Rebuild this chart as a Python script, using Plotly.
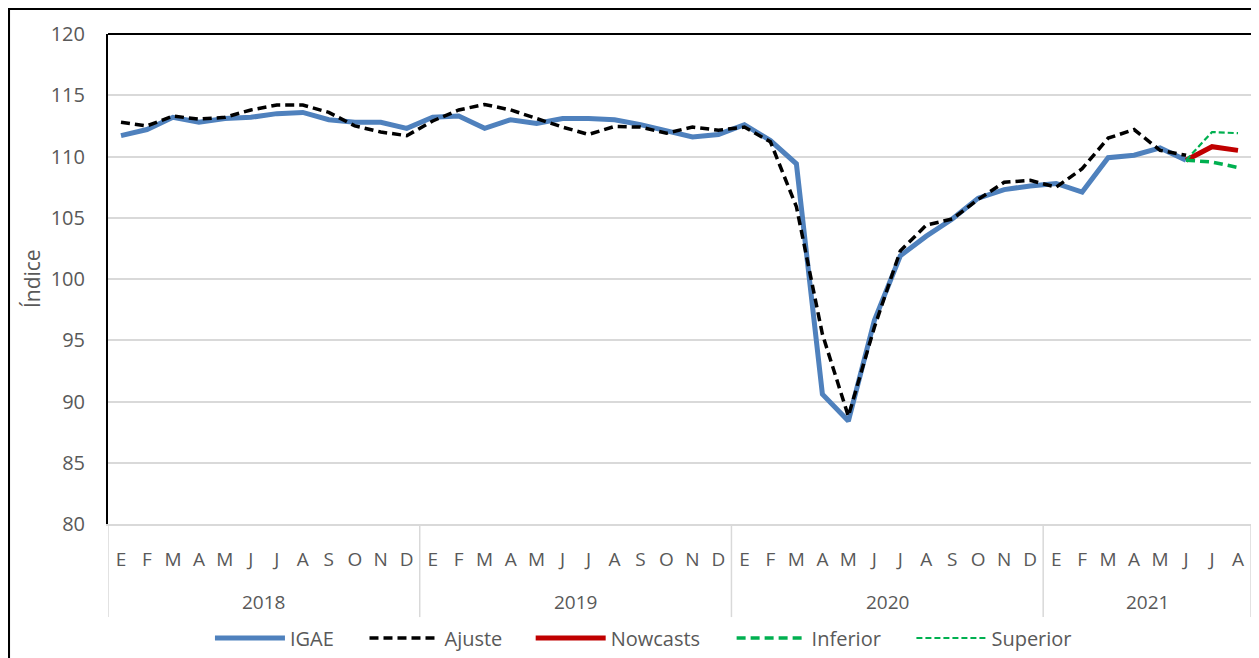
import plotly.graph_objects as go

months = ["E", "F", "M", "A", "M", "J", "J", "A", "S", "O", "N", "D"] * 3 + ["E", "F", "M", "A", "M", "J", "J", "A"]
years = ["2018", "2019", "2020", "2021"]
year_counts = [12, 12, 12, 8]

igae = [111.7, 112.2, 113.2, 112.8, 113.1, 113.2, 113.5, 113.6, 113.0, 112.8, 112.8, 112.3,
        113.2, 113.3, 112.3, 113.0, 112.7, 113.1, 113.1, 113.0, 112.6, 112.15, 111.6, 111.8,
        112.6, 111.3, 109.4, 90.6, 88.4, 96.6, 101.9, 103.5, 104.9, 106.6, 107.3, 107.6,
        107.8, 107.1, 109.9, 110.1, 110.7, 109.7, None, None]
ajuste = [112.8, 112.5, 113.3, 113.05, 113.2, 113.8, 114.2, 114.2, 113.6, 112.5, 112.0, 111.7,
          112.9, 113.8, 114.25, 113.8, 113.1, 112.4, 111.8, 112.45, 112.4, 111.9, 112.4, 112.15,
          112.4, 111.2, 105.9, 95.5, 88.8, 96.05, 102.3, 104.4, 104.9, 106.5, 107.9, 108.05,
          107.5, 109.0, 111.5, 112.2, 110.5, 110.1, None, None]
nowcasts = [None] * 41 + [109.7, 110.8, 110.5]
inferior = [None] * 41 + [109.7, 109.55, 109.1]
superior = [None] * 41 + [109.7, 112.0, 111.9]

x = list(range(len(months)))
GRAY = "#595959"
FONT = "Open Sans"

fig = go.Figure()
fig.add_trace(go.Scatter(x=x, y=igae, name="IGAE", mode="lines", legend="legend", showlegend=True,
                         line=dict(color="#4F81BD", width=5)))
fig.add_trace(go.Scatter(x=x, y=ajuste, name="Ajuste", mode="lines", legend="legend2", showlegend=True,
                         line=dict(color="black", width=3.5, dash="9px,5px")))
fig.add_trace(go.Scatter(x=x, y=nowcasts, name="Nowcasts", mode="lines", legend="legend3", showlegend=True,
                         line=dict(color="#C00000", width=5)))
fig.add_trace(go.Scatter(x=x, y=inferior, name="Inferior", mode="lines", legend="legend4", showlegend=True,
                         line=dict(color="#00B050", width=3.5, dash="9px,5px")))
fig.add_trace(go.Scatter(x=x, y=superior, name="Superior", mode="lines", legend="legend5", showlegend=True,
                         line=dict(color="#00B050", width=2.2, dash="6px,3px")))

shapes = []
b = -0.5
bounds = [b]
for c in year_counts:
    b += c
    bounds.append(b)
for bx in bounds:
    shapes.append(dict(type="line", xref="x", yref="paper", x0=bx, x1=bx, y0=0, y1=-0.19,
                       line=dict(color="#d9d9d9", width=1.5)))
shapes.append(dict(type="line", xref="paper", yref="paper", x0=0, x1=1, y0=1, y1=1,
                   line=dict(color="black", width=2)))
shapes.append(dict(type="line", xref="paper", yref="paper", x0=-0.0868, x1=-0.0868, y0=1.06, y1=-0.28,
                   line=dict(color="black", width=2.5)))
shapes.append(dict(type="line", xref="paper", yref="paper", x0=-0.0868, x1=1.0, y0=1.0515, y1=1.0515,
                   line=dict(color="black", width=2.5)))

annotations = []
start = 0
for yr, c in zip(years, year_counts):
    annotations.append(dict(text=yr, x=start + (c - 1) / 2, xref="x", y=-0.159, yref="paper",
                            showarrow=False, yanchor="middle", xanchor="center",
                            font=dict(size=19, color=GRAY, family=FONT)))
    start += c
annotations.append(dict(text="Índice", x=-0.0664, xref="paper", y=0.5, yref="paper",
                        showarrow=False, textangle=-90, xanchor="center", yanchor="middle",
                        font=dict(size=21, color=GRAY, family=FONT)))

leg_x = [0.0892, 0.2244, 0.3698, 0.5456, 0.7029]
legends = {}
for i, lx in enumerate(leg_x):
    key = "legend" if i == 0 else f"legend{i + 1}"
    legends[key] = dict(orientation="h", x=lx, xanchor="left", y=-0.2327, yanchor="middle",
                        font=dict(size=20, color=GRAY, family=FONT), itemwidth=70,
                        bgcolor="rgba(0,0,0,0)", borderwidth=0)

fig.update_layout(
    width=1243, height=650,
    margin=dict(l=100, r=0, t=26, b=134, autoexpand=False),
    plot_bgcolor="white", paper_bgcolor="white",
    font=dict(family=FONT, color=GRAY, size=18),
    showlegend=True,
    shapes=shapes, annotations=annotations,
    xaxis=dict(range=[-0.5, len(months) - 0.5], tickvals=x, ticktext=months,
               showgrid=False, zeroline=False, showline=True, linecolor="#d9d9d9", linewidth=1.5,
               ticks="outside", ticklen=17, tickcolor="rgba(0,0,0,0)", automargin=False,
               tickfont=dict(size=19, color=GRAY, family=FONT), fixedrange=True),
    yaxis=dict(range=[80, 120], dtick=5, showgrid=True, gridcolor="#d9d9d9", gridwidth=1.5,
               zeroline=False, showline=True, linecolor="black", linewidth=2, mirror=True,
               ticks="outside", ticklen=17, tickcolor="rgba(0,0,0,0)", automargin=False,
               tickfont=dict(size=20, color=GRAY, family=FONT)),
    **legends,
)

fig.write_html("out.html")
